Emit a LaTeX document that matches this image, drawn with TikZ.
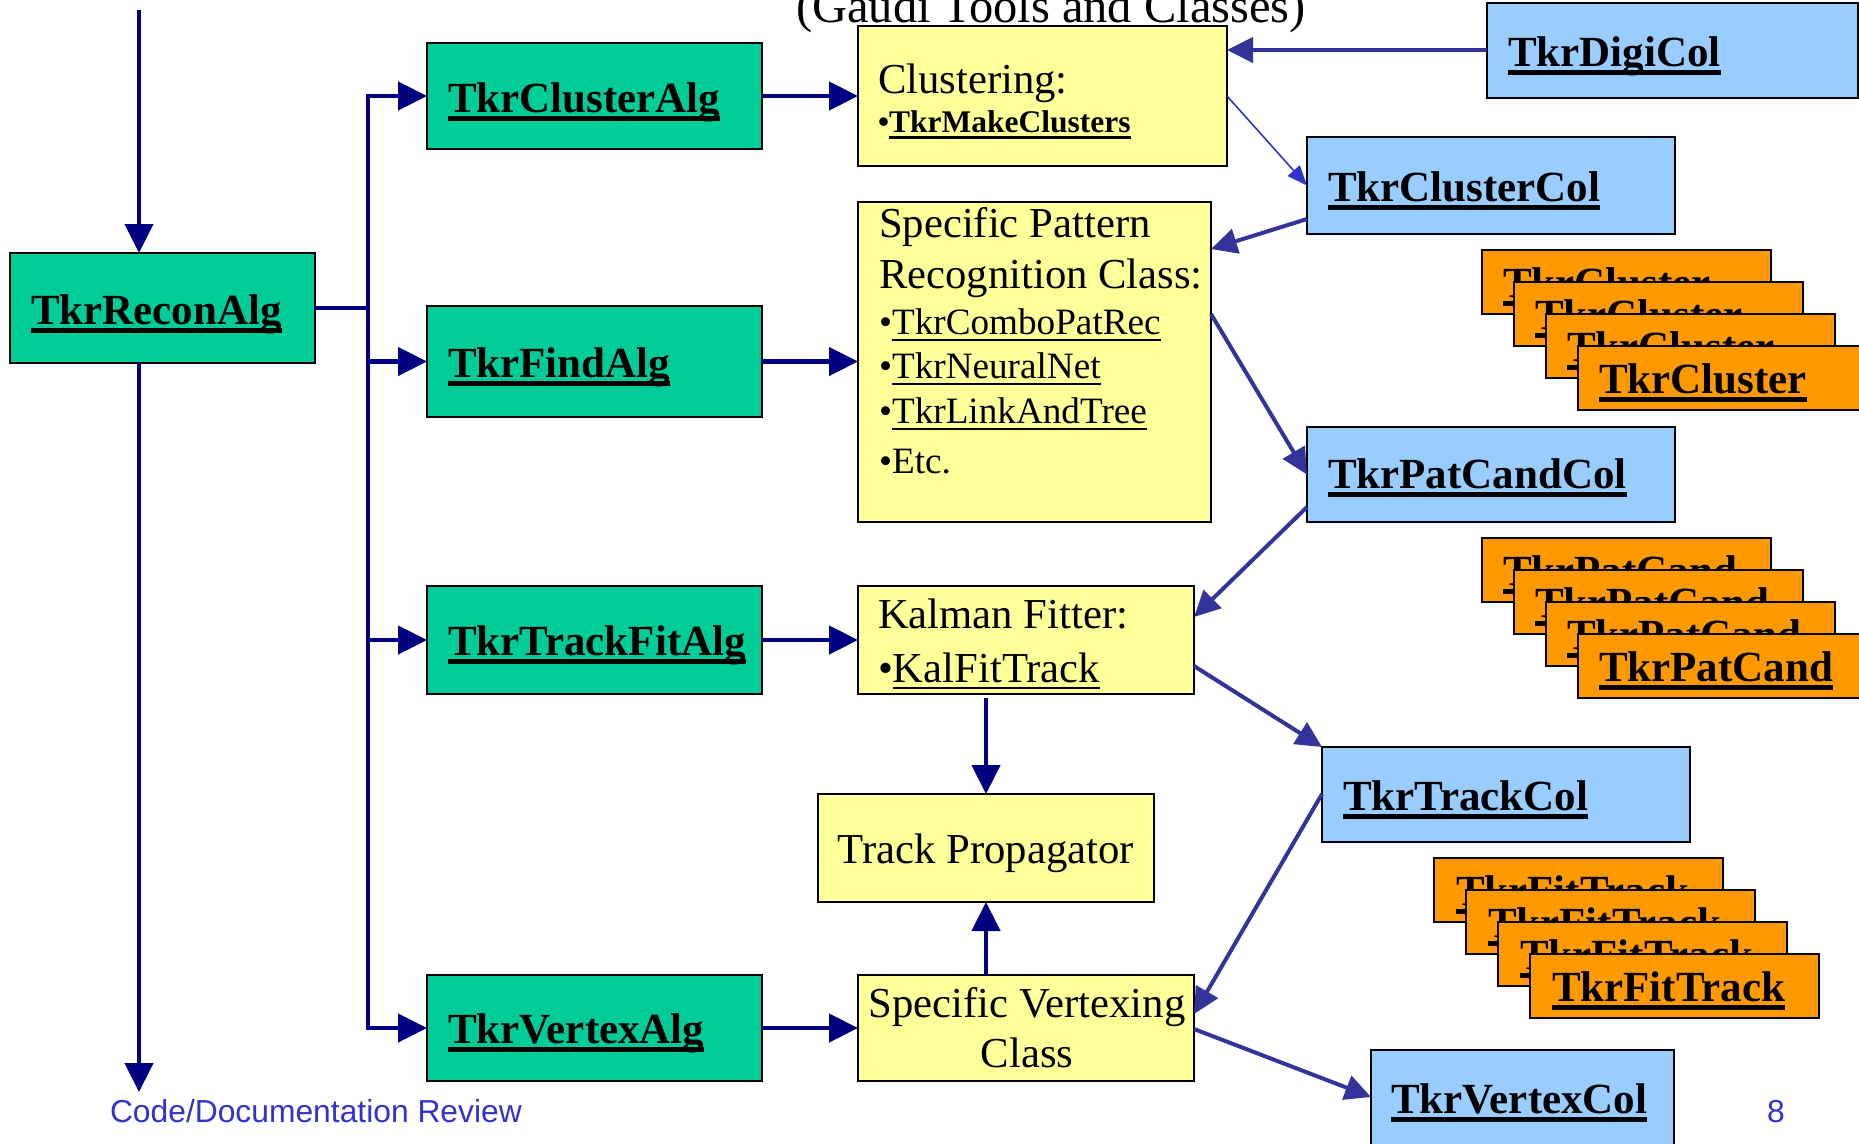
\documentclass[tikz,border=0pt]{standalone}
\usepackage{fontspec}
\setmainfont{Liberation Serif}
\newfontfamily\arialfont{Liberation Sans}
\usetikzlibrary{arrows.meta}
\definecolor{algnavy}{HTML}{000080}
\definecolor{databl}{HTML}{333399}
\definecolor{thinbl}{HTML}{3333CC}
\definecolor{algfill}{HTML}{00CC99}
\definecolor{toolfill}{HTML}{FFFF99}
\definecolor{colfill}{HTML}{99CCFF}
\definecolor{objfill}{HTML}{FF9900}
\definecolor{foottext}{HTML}{3333CC}
\newsavebox\ulbox
\newcommand\ulr[3]{\sbox\ulbox{#3}\rlap{\rule[-#1pt]{\wd\ulbox}{#2pt}}\usebox\ulbox}
\newcommand\ulbold[1]{\ulr{8.5}{5}{#1}}
\newcommand\ulsmall[1]{\ulr{7}{3.5}{#1}}
\newcommand\ulthin[1]{\ulr{6.5}{2}{#1}}
\newcommand\bigbold{\fontsize{43}{48}\selectfont\bfseries}
\newcommand\bigreg{\fontsize{42.7}{48}\selectfont}
\newcommand\midreg{\fontsize{37.2}{42}\selectfont}
\newcommand\smallbold{\fontsize{31.5}{34}\selectfont\bfseries}
\newcommand\mkbox[6]{\node[#2,minimum width={#5-#3},minimum height={#6-#4}] (#1) at ({(#3+#5)/2},{(#4+#6)/2}) {};}
\begin{document}
\begin{tikzpicture}[x=1pt,y=-1pt,
  boxbase/.style={draw=black,line width=1.8pt,inner sep=0pt,outer sep=0pt,rectangle},
  algbox/.style={boxbase,fill=algfill},
  toolbox/.style={boxbase,fill=toolfill},
  colbox/.style={boxbase,fill=colfill},
  objbox/.style={boxbase,fill=objfill},
  lbl/.style={anchor=base west,inner sep=0pt,outer sep=0pt},
  clbl/.style={anchor=base,inner sep=0pt,outer sep=0pt},
  navyarrow/.style={draw=algnavy,line width=4.5pt,-{Triangle[width=28pt,length=29pt]}},
  navyline/.style={draw=algnavy,line width=4.5pt},
  dataarrow/.style={draw=databl,line width=4pt,-{Triangle[width=25pt,length=26pt]}},
  thinarrow/.style={draw=thinbl,line width=1.6pt,-{Triangle[width=16pt,length=20pt]}}
]
\useasboundingbox (0,0) rectangle (1859,1143);
\fill[white] (0,0) rectangle (1859,1143);

% title (clipped at top)
\node[clbl,font=\fontsize{48.5}{54}\selectfont] (title) at (1051,22) {(Gaudi Tools and Classes)};

% algorithm boxes
\mkbox{recon}{algbox}{10}{253}{315}{363}
\node[lbl,font=\bigbold] (recont) at (31,324) {\ulbold{TkrReconAlg}};
\mkbox{clusteralg}{algbox}{427}{43}{762}{149}
\node[lbl,font=\bigbold] (clusteralgt) at (448,112) {\ulbold{TkrClusterAlg}};
\mkbox{findalg}{algbox}{427}{306}{762}{417}
\node[lbl,font=\bigbold] (findalgt) at (448,377) {\ulbold{TkrFindAlg}};
\mkbox{trackfitalg}{algbox}{427}{586}{762}{694}
\node[lbl,font=\bigbold] (trackfitalgt) at (448,655) {\ulbold{TkrTrackFitAlg}};
\mkbox{vertexalg}{algbox}{427}{975}{762}{1081}
\node[lbl,font=\bigbold] (vertexalgt) at (448,1043) {\ulbold{TkrVertexAlg}};

% tool boxes
\mkbox{clustering}{toolbox}{858}{26}{1227}{166}
\node[lbl,font=\bigreg] (clusteringt1) at (878,93) {Clustering:};
\node[lbl,font=\smallbold] (clusteringt2) at (878,132) {•\ulsmall{TkrMakeClusters}};

\mkbox{pattern}{toolbox}{858}{202}{1211}{522}
\node[lbl,font=\bigreg] (patternt1) at (879,237) {Specific Pattern};
\node[lbl,font=\bigreg] (patternt2) at (879,288) {Recognition Class:};
\node[lbl,font=\midreg] (patternt3) at (879,334) {•\ulthin{TkrComboPatRec}};
\node[lbl,font=\midreg] (patternt4) at (879,378) {•\ulthin{TkrNeuralNet}};
\node[lbl,font=\midreg] (patternt5) at (879,423) {•\ulthin{TkrLinkAndTree}};
\node[lbl,font=\midreg] (patternt6) at (879,473) {•Etc.};

\mkbox{kalman}{toolbox}{858}{586}{1194}{694}
\node[lbl,font=\bigreg] (kalmant1) at (878,628) {Kalman Fitter:};
\node[lbl,font=\bigreg] (kalmant2) at (878,682) {•\ulthin{KalFitTrack}};

\mkbox{prop}{toolbox}{818}{794}{1154}{902}
\node[clbl,font=\bigreg] (propt) at (986,863) {Track Propagator};

\mkbox{vertexing}{toolbox}{858}{975}{1194}{1081}
\node[clbl,font=\bigreg] (vertexingt1) at (1027,1017) {Specific Vertexing};
\node[clbl,font=\bigreg] (vertexingt2) at (1027,1067) {Class};

% collection boxes
\mkbox{digicol}{colbox}{1487}{3}{1858}{98}
\node[lbl,font=\bigbold] (digicolt) at (1508,66) {\ulbold{TkrDigiCol}};
\mkbox{clustercol}{colbox}{1307}{137}{1675}{234}
\node[lbl,font=\bigbold] (clustercolt) at (1328,201) {\ulbold{TkrClusterCol}};
\mkbox{patcandcol}{colbox}{1307}{427}{1675}{522}
\node[lbl,font=\bigbold] (patcandcolt) at (1328,488) {\ulbold{TkrPatCandCol}};
\mkbox{trackcol}{colbox}{1322}{747}{1690}{842}
\node[lbl,font=\bigbold] (trackcolt) at (1343,810) {\ulbold{TkrTrackCol}};
\mkbox{vertexcol}{colbox}{1371}{1050}{1674}{1160}
\node[lbl,font=\bigbold] (vertexcolt) at (1391,1113) {\ulbold{TkrVertexCol}};

% object stacks
\foreach \k in {0,1,2,3}{
  \pgfmathsetmacro{\ox}{1482+32*\k}
  \pgfmathsetmacro{\oy}{250+32*\k}
  \mkbox{clobj\k}{objbox}{\ox}{\oy}{\ox+289}{\oy+64}
  \node[lbl,font=\bigbold] (clobjt\k) at (\ox+21,\oy+47) {\ulbold{TkrCluster}};
}
\foreach \k in {0,1,2,3}{
  \pgfmathsetmacro{\ox}{1482+32*\k}
  \pgfmathsetmacro{\oy}{538+32*\k}
  \mkbox{pcobj\k}{objbox}{\ox}{\oy}{\ox+289}{\oy+64}
  \node[lbl,font=\bigbold] (pcobjt\k) at (\ox+21,\oy+47) {\ulbold{TkrPatCand}};
}
\foreach \k in {0,1,2,3}{
  \pgfmathsetmacro{\ox}{1434+32*\k}
  \pgfmathsetmacro{\oy}{858+32*\k}
  \mkbox{ftobj\k}{objbox}{\ox}{\oy}{\ox+289}{\oy+64}
  \node[lbl,font=\bigbold] (ftobjt\k) at (\ox+22,\oy+47) {\ulbold{TkrFitTrack}};
}

% control flow
\coordinate (topin) at (139,10);
\coordinate (botout) at (139,1092);
\draw[navyarrow] (topin) -- (recon.north -| topin);
\draw[navyarrow] (recon.south -| topin) -- (botout);
\draw[navyline] (recon.east) -- ++(53,0) coordinate (bus);
\draw[navyarrow] (bus) |- (clusteralg.west);
\draw[navyarrow] (bus) |- (findalg.west);
\draw[navyarrow] (bus) |- (trackfitalg.west);
\draw[navyarrow] (bus) |- (vertexalg.west);
\draw[navyarrow] (clusteralg.east) -- (clusteralg.east -| clustering.west);
\draw[navyarrow] (findalg.east) -- (findalg.east -| pattern.west);
\draw[navyarrow] (trackfitalg.east) -- (trackfitalg.east -| kalman.west);
\draw[navyarrow] (vertexalg.east) -- (vertexalg.east -| vertexing.west);
\draw[navyarrow,shorten <=4pt] (kalman.south -| prop.north) -- (prop.north);
\draw[navyarrow] (vertexing.north -| prop.south) -- (prop.south);

% data flow
\draw[dataarrow] (digicol.west |- 0,50) -- (clustering.east |- 0,50);
\draw[thinarrow] (clustering.east) -- (clustercol.west);
\draw[dataarrow] (clustercol.west |- 0,219) -- (pattern.east |- 0,249);
\draw[dataarrow] (pattern.east |- 0,314) -- (patcandcol.west);
\draw[dataarrow] (patcandcol.west |- 0,507) -- (kalman.east |- 0,617);
\draw[dataarrow] (kalman.east |- 0,666) -- (trackcol.north west);
\draw[dataarrow] (trackcol.west |- 0,794) -- (vertexing.east |- 0,1014);
\draw[dataarrow] (vertexing.east |- 0,1029) -- (vertexcol.west |- 0,1097);

% footer
\node[lbl,text=foottext,font=\arialfont\fontsize{31.8}{36}\selectfont] (footer) at (110,1122) {Code/Documentation Review};
\node[lbl,text=foottext,font=\arialfont\fontsize{31.8}{36}\selectfont] (pagenum) at (1767,1122) {8};
\end{tikzpicture}
\end{document}
